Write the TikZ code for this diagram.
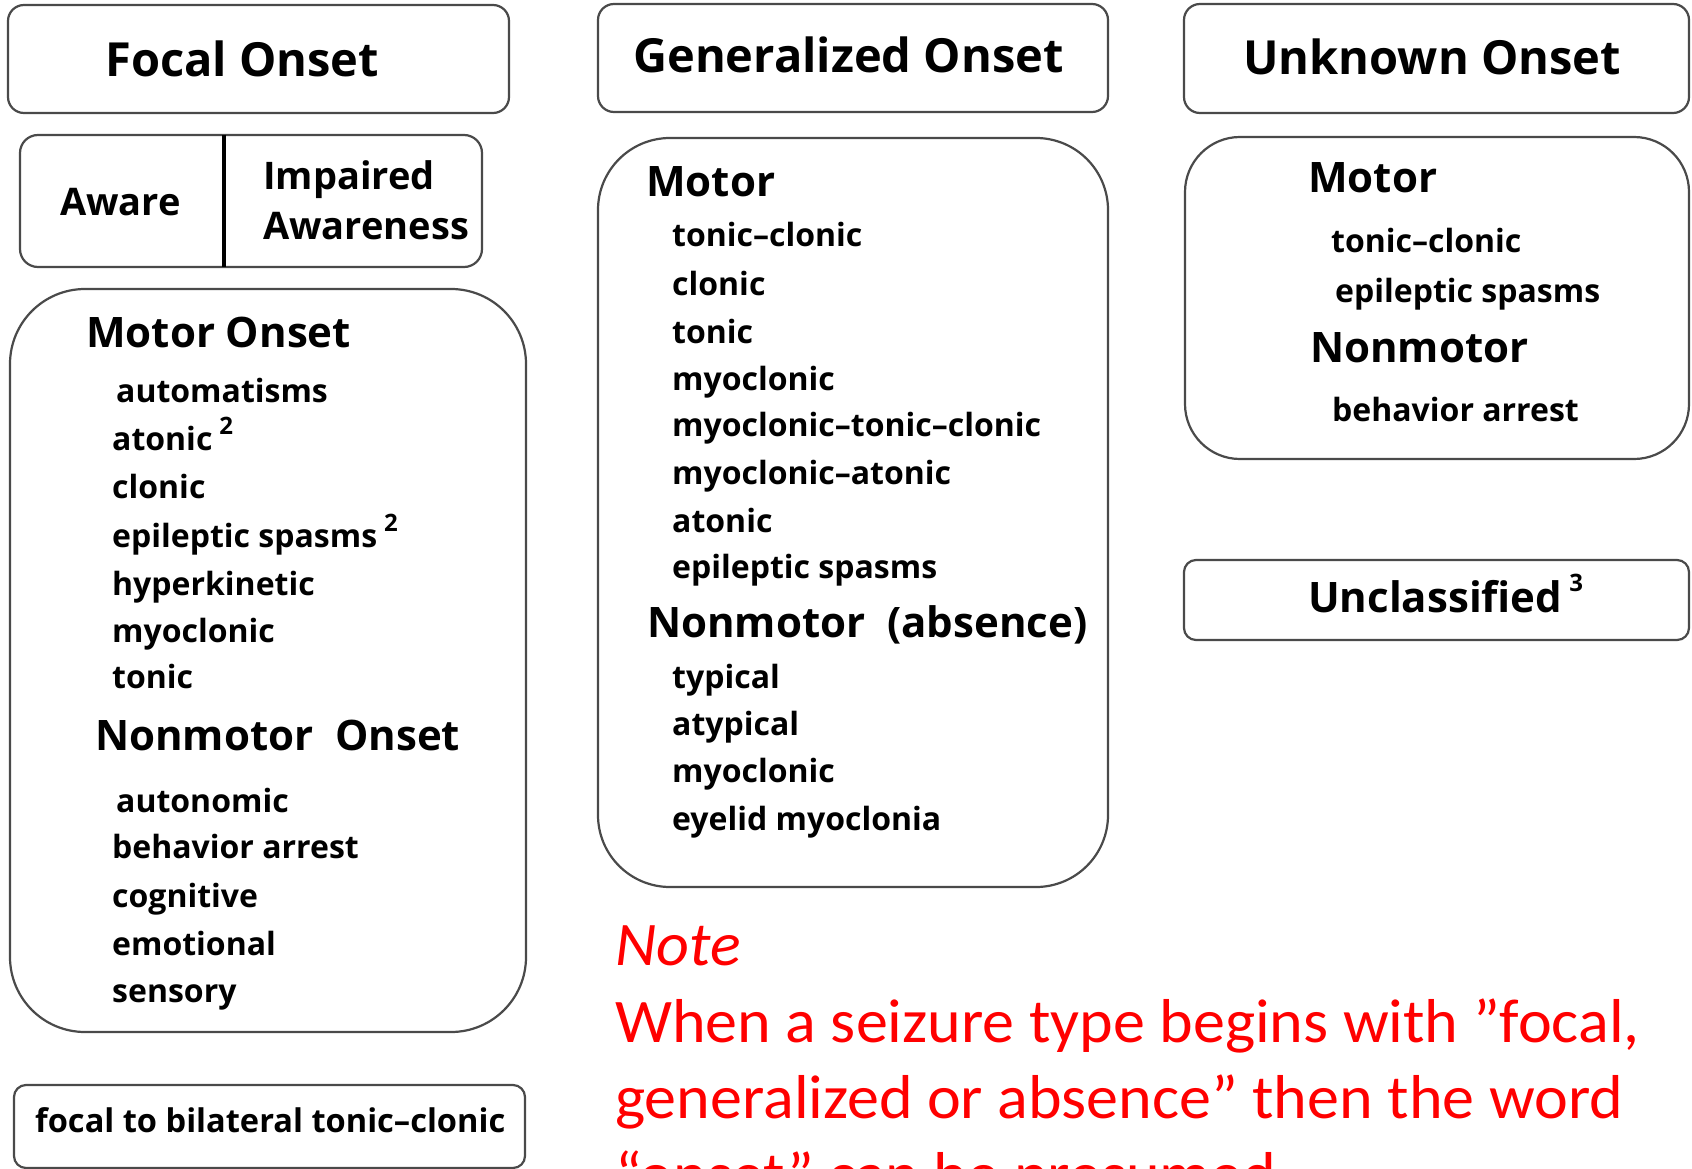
\documentclass[tikz,border=0pt]{standalone}
\usepackage{fontspec}
\setmainfont{Open Sans}
\newfontfamily\notefont{Carlito}
\definecolor{boxgray}{HTML}{4A4A4A}
\newcommand{\supnum}[1]{\hspace{7pt}\raisebox{0.5em}{\fontsize{24}{24}\selectfont #1}}
\tikzset{
  box/.style={draw=boxgray, line width=2.2pt, rectangle, inner sep=0pt},
  hd/.style={font=\fontsize{47}{50}\selectfont\bfseries, anchor=base west, inner sep=0pt},
  sub/.style={font=\fontsize{42}{46}\selectfont\bfseries, anchor=base west, inner sep=0pt},
  aw/.style={font=\fontsize{38}{40}\selectfont\bfseries, anchor=base west, inner sep=0pt},
  item/.style={font=\fontsize{32}{36}\selectfont\bfseries, anchor=base west, inner sep=0pt},
  fbt/.style={font=\fontsize{32.6}{36}\selectfont\bfseries, anchor=base west, inner sep=0pt},
  notetxt/.style={font=\notefont\fontsize{62}{70}\selectfont, text=red, anchor=base west, inner sep=0pt},
}
\begin{document}
\begin{tikzpicture}[x=1pt,y=-1pt]
\useasboundingbox (0,0) rectangle (1692,1169);
\clip (0,0) rectangle (1692,1169);
\fill[white] (0,0) rectangle (1692,1169);
% ---------- left column
\node[box, rounded corners=16pt, minimum width=501pt, minimum height=108pt] (focalhd) at (258.5,59) {};
\node[hd] (focalt) at (105,77) {Focal Onset};
\node[box, rounded corners=18pt, minimum width=462pt, minimum height=132pt] (aware) at (251,201) {};
\coordinate (dtop) at (224,135);
\coordinate (dbot) at (224,267);
\draw[line width=4pt, black] (dtop) -- (dbot);
\node[aw] (awaret) at (60,215) {Aware};
\node[aw] (impt) at (263,190) {Impaired};
\node[aw] (awnt) at (263,240) {Awareness};
\node[box, rounded corners=75pt, minimum width=516pt, minimum height=743pt] (focmotor) at (268,660.5) {};
\node[sub] (fmo) at (86,347) {Motor Onset};
\node[item] (f1) at (116,402) {automatisms};
\node[item] (f2) at (112,450) {atonic\supnum{2}};
\node[item] (f3) at (112,498) {clonic};
\node[item] (f4) at (112,547) {epileptic spasms\supnum{2}};
\node[item] (f5) at (112,595) {hyperkinetic};
\node[item] (f6) at (112,642) {myoclonic};
\node[item] (f7) at (112,688) {tonic};
\node[sub] (fno) at (95,750) {Nonmotor\ \ Onset};
\node[item] (g1) at (116,812) {autonomic};
\node[item] (g2) at (112,858) {behavior arrest};
\node[item] (g3) at (112,907) {cognitive};
\node[item] (g4) at (112,955) {emotional};
\node[item] (g5) at (112,1002) {sensory};
\node[box, rounded corners=12pt, minimum width=511pt, minimum height=83pt] (f2b) at (269.5,1126.5) {};
\node[fbt] (f2bt) at (35,1132) {focal to bilateral tonic--clonic};
% ---------- middle column
\node[box, rounded corners=16pt, minimum width=510pt, minimum height=108pt] (genhd) at (853,58) {};
\node[hd] (gent) at (633,73) {Generalized Onset};
\node[box, rounded corners=72pt, minimum width=510pt, minimum height=749pt] (genmotor) at (853,512.5) {};
\node[sub] (gm) at (646,197) {Motor};
\node[item] (m1) at (672,247) {tonic--clonic};
\node[item] (m2) at (672,295) {clonic};
\node[item] (m3) at (672,343) {tonic};
\node[item] (m4) at (672,390) {myoclonic};
\node[item] (m5) at (672,436) {myoclonic--tonic--clonic};
\node[item] (m6) at (672,484) {myoclonic--atonic};
\node[item] (m7) at (672,532) {atonic};
\node[item] (m8) at (672,578) {epileptic spasms};
\node[sub] (gn) at (647,637) {Nonmotor\ \ (absence)};
\node[item] (n1) at (672,688) {typical};
\node[item] (n2) at (672,735) {atypical};
\node[item] (n3) at (672,782) {myoclonic};
\node[item] (n4) at (672,830) {eyelid myoclonia};
% ---------- right column
\node[box, rounded corners=16pt, minimum width=505pt, minimum height=109pt] (unkhd) at (1436.5,58.5) {};
\node[hd] (unkt) at (1243,75) {Unknown Onset};
\node[box, rounded corners=55pt, minimum width=504pt, minimum height=322pt] (unkmotor) at (1437,298) {};
\node[sub] (um) at (1308,193) {Motor};
\node[item] (u1) at (1331,252) {tonic--clonic};
\node[item] (u2) at (1335,302) {epileptic spasms};
\node[sub] (un) at (1310,362) {Nonmotor};
\node[item] (u3) at (1332,421) {behavior arrest};
\node[box, rounded corners=12pt, minimum width=505pt, minimum height=80pt] (uncl) at (1436.5,600) {};
\node[sub] (unclt) at (1308,612) {Unclassified\supnum{3}};
% ---------- note
\node[notetxt] (note) at (615,965) {\scalebox{1.033}[1]{\itshape Note}};
\node[notetxt] (nl1) at (615,1042) {\scalebox{1.033}[1]{When a seizure type begins with ”focal,}};
\node[notetxt] (nl2) at (615,1118) {\scalebox{1.033}[1]{generalized or absence” then the word}};
\node[notetxt] (nl3) at (615,1195) {\scalebox{1.033}[1]{“onset” can be presumed.}};
\end{tikzpicture}
\end{document}
